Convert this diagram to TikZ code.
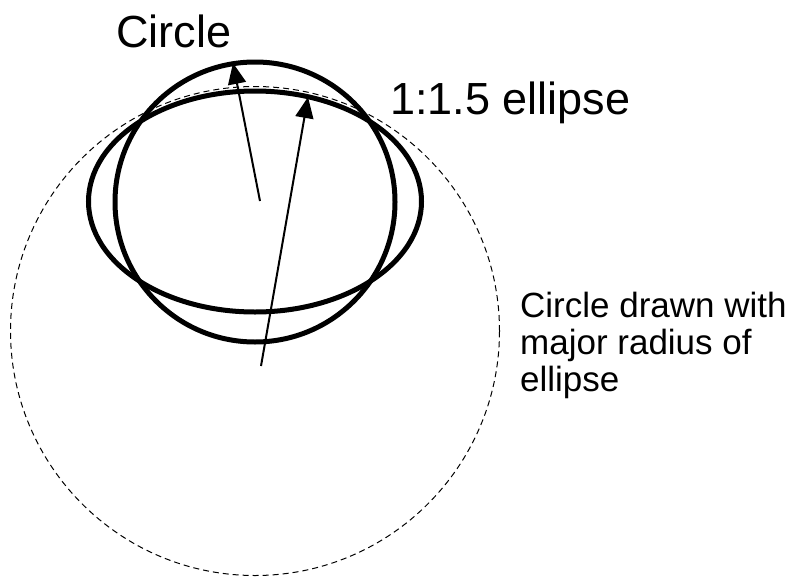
\documentclass[tikz,border=0pt]{standalone}
\usepackage{fontspec}
\setmainfont{Liberation Sans}
\usetikzlibrary{arrows.meta}
\begin{document}
\begin{tikzpicture}[x=1pt,y=-1pt,
  shapeline/.style={line width=5pt},
  radiusarrow/.style={line width=2pt,-{Triangle[length=21pt,width=18pt]}},
  guide/.style={line width=1pt,dash pattern=on 6pt off 4pt},
  lbl/.style={inner sep=0pt,anchor=base west,font=\fontsize{45}{50}\selectfont},
  note/.style={inner sep=0pt,anchor=base west,align=left,font=\fontsize{35}{37}\selectfont}]
\useasboundingbox (0,0) rectangle (798,576);
\draw[guide] (255,331) circle[radius=244.5pt];
\draw[shapeline] (255,202) circle[radius=140pt];
\draw[shapeline] (255,201.5) ellipse[x radius=166.5pt,y radius=110.5pt];
\coordinate (c1) at (260,201);
\coordinate (t1) at (233,63);
\coordinate (c2) at (261,366);
\coordinate (t2) at (308,97);
\draw[radiusarrow] (c1) -- (t1);
\draw[radiusarrow] (c2) -- (t2);
\node[lbl] (circlelbl) at (116,47) {Circle};
\node[lbl] (ellipselbl) at (390,114) {1:1.5 ellipse};
\node[note] (notelbl) at (520,391) {Circle drawn with\\major radius of\\ellipse};
\end{tikzpicture}
\end{document}
